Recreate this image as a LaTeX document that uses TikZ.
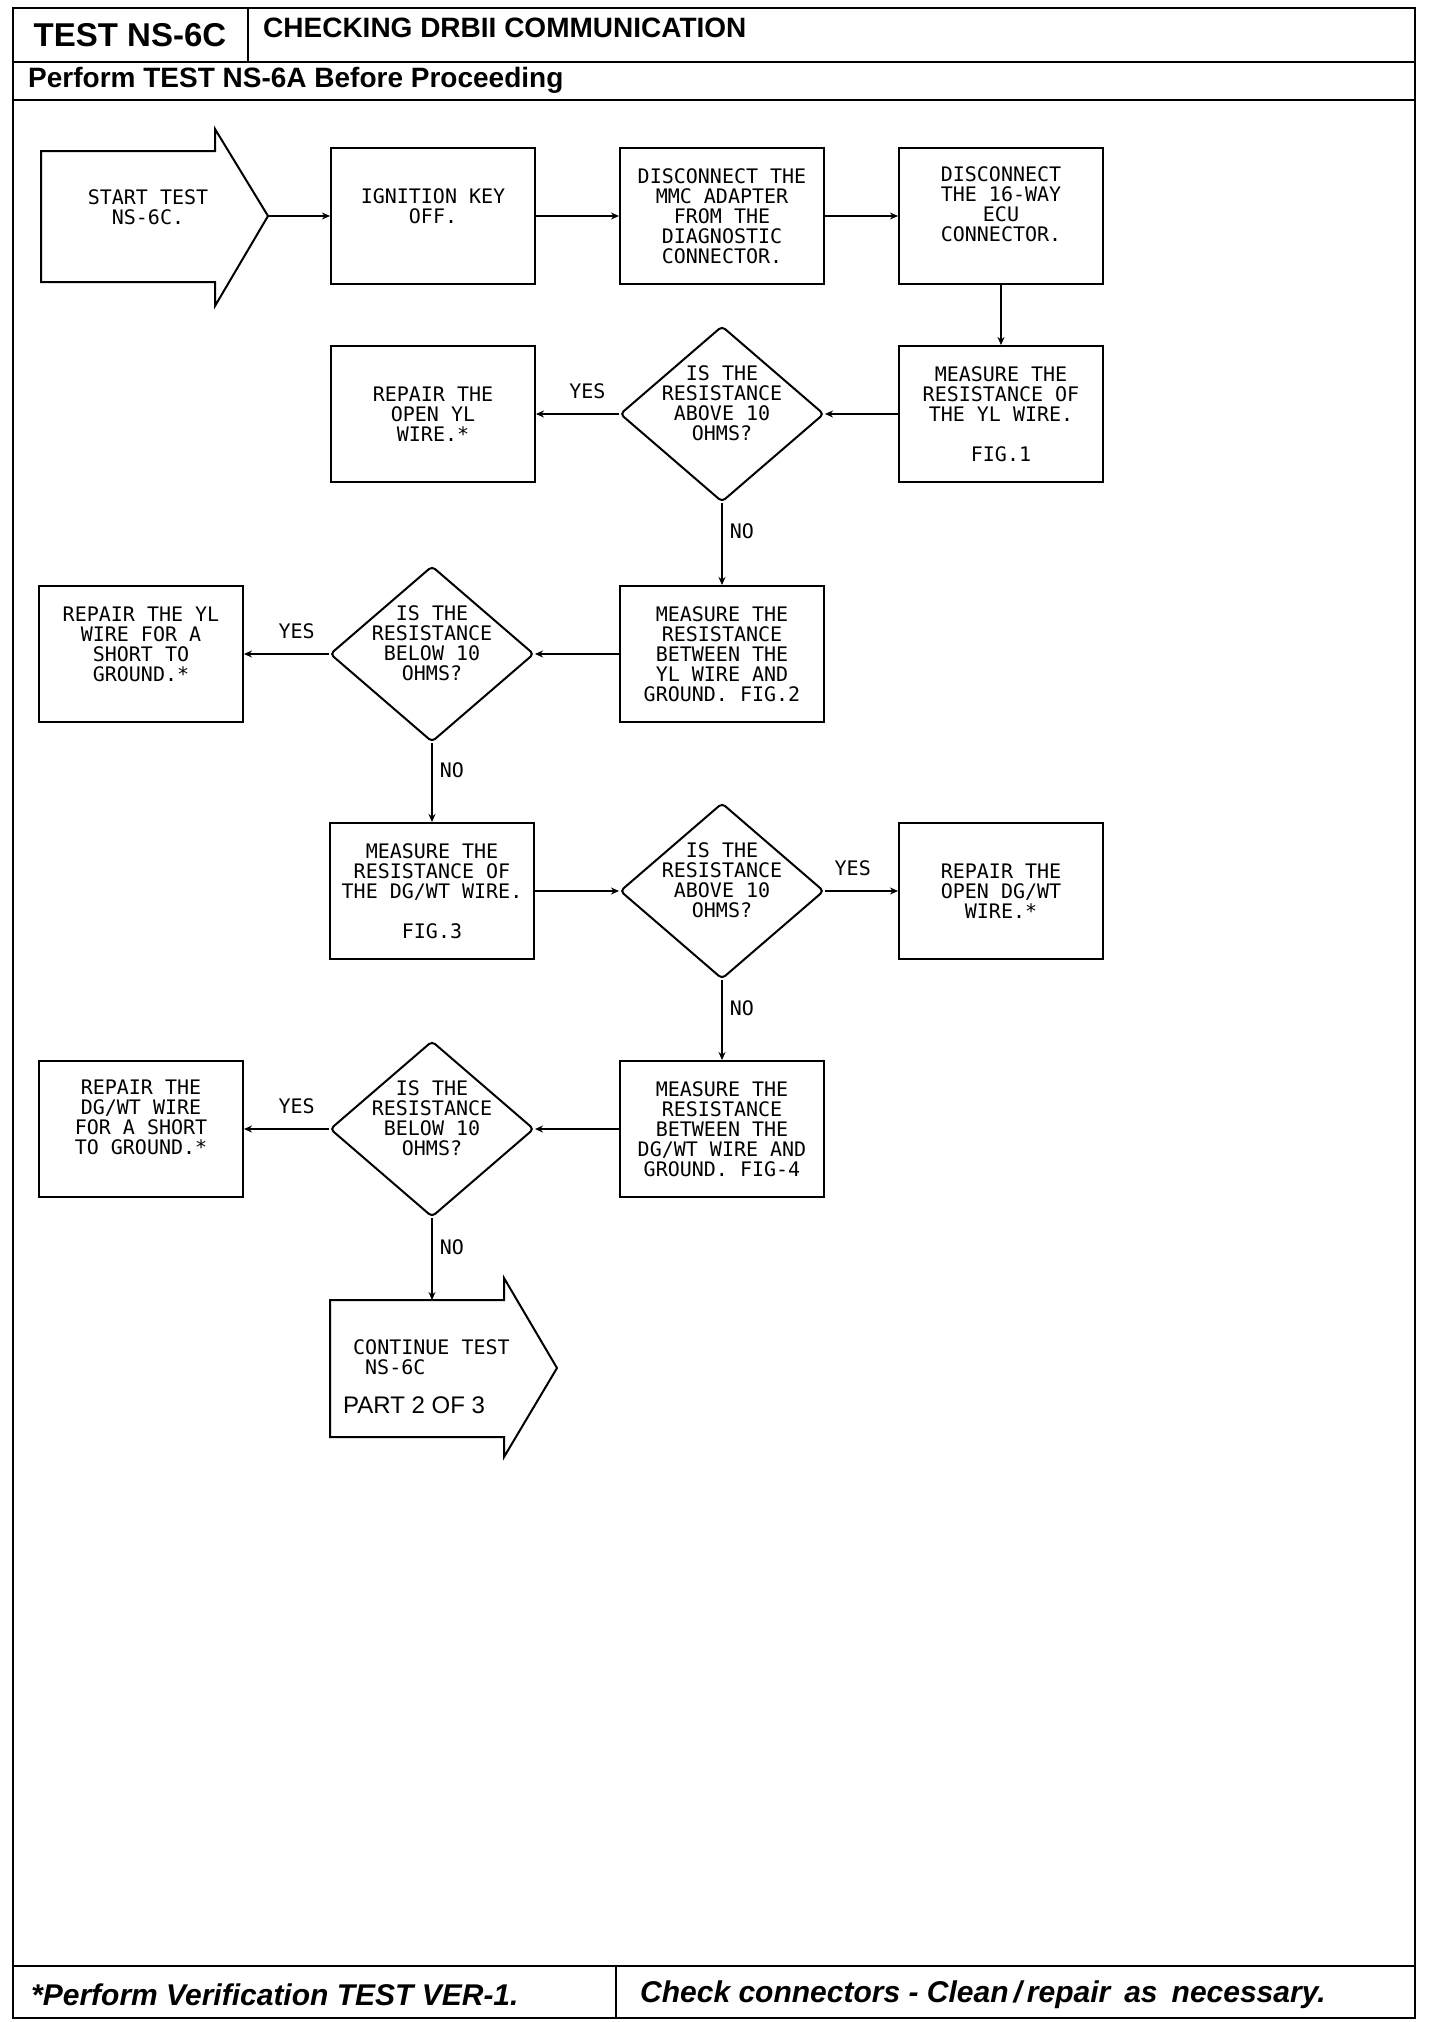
\documentclass[tikz,border=0pt]{standalone}
\usepackage{fontspec}
\setmainfont{Liberation Sans}
\newfontfamily\plotter{DejaVu Sans Mono}
\usetikzlibrary{arrows.meta,shapes.geometric}

\begin{document}
\begin{tikzpicture}[x=1pt,y=-1pt,>={Stealth[length=8pt,width=7pt]},
  plot/.style={font=\plotter\fontsize{20pt}{20pt}\selectfont,align=center,inner sep=0pt},
  stepbox/.style={plot,draw,line width=2pt,minimum width=204pt,minimum height=136pt},
  query/.style={draw,diamond,line width=2pt,minimum width=204pt,minimum height=176pt,inner sep=0pt,rounded corners=4pt},
  flow/.style={->,line width=1.8pt},
  head/.style={font=\bfseries\fontsize{#1}{#1}\selectfont,inner sep=0pt},
  foot/.style={font=\bfseries\itshape\fontsize{30pt}{30pt}\selectfont,inner sep=0pt,anchor=base west}]
  \useasboundingbox (0,0) rectangle (1440,2022);
  % frame, header and footer
  \draw[line width=2.6pt] (13,8) rectangle (1415,2018);
  \draw[line width=2.6pt] (13,62) -- (1415,62) (248,8) -- (248,62) (13,100) -- (1415,100)
    (13,1966) -- (1415,1966) (616,1966) -- (616,2018);
  \node[head=33pt,anchor=base] (title) at (130,46) {TEST NS-6C};
  \node[head=28pt,anchor=base west] (topic) at (263,37) {CHECKING DRBII COMMUNICATION};
  \node[head=28pt,anchor=base west] (first) at (28,87) {Perform TEST NS-6A Before Proceeding};
  \node[foot] (verify) at (31,2005) {*Perform Verification TEST VER-1.};
  \node[foot] (check) at (640,2002) {Check connectors - Clean\,/\,repair\hspace{14pt}as\hspace{14pt}necessary.};
  % start and continue arrows
  \draw[line width=2pt] (41,151) -- (215,151) -- (215,129) -- (268,216) -- (215,306) -- (215,282) -- (41,282) -- cycle;
  \coordinate (starttip) at (268,216);
  \node[plot] (start) at (148,207) {START TEST\\NS-6C.};
  \draw[line width=2pt] (330,1300) -- (504,1300) -- (504,1278) -- (557,1368) -- (504,1457) -- (504,1437) -- (330,1437) -- cycle;
  \coordinate (cont) at (432,1300);
  \node[plot,align=left,anchor=north west] (contname) at (353,1339) {CONTINUE TEST\\\hspace*{12pt}NS-6C};
  \node[inner sep=0pt,font=\fontsize{24pt}{24pt}\selectfont,anchor=base west] (part) at (343,1413) {PART 2 OF 3};
  % row 1
  \node[stepbox,label={[plot,yshift=10pt]center:IGNITION KEY\\OFF.}] (ign) at (433,216) {};
  \node[stepbox] (mmc) at (722,216) {DISCONNECT THE\\MMC ADAPTER\\FROM THE\\DIAGNOSTIC\\CONNECTOR.};
  \node[stepbox,label={[plot,yshift=12pt]center:DISCONNECT\\THE 16-WAY\\ECU\\CONNECTOR.}] (ecu) at (1001,216) {};
  % row 2
  \node[stepbox] (meas1) at (1001,414) {MEASURE THE\\RESISTANCE OF\\THE YL WIRE.\\[20pt]FIG.1};
  \node[query] (q1) at (722,414) {};
  \node[plot] at ([yshift=11pt]q1.center) {IS THE\\RESISTANCE\\ABOVE 10\\OHMS?};
  \node[stepbox] (rep1) at (433,414) {REPAIR THE\\OPEN YL\\WIRE.*};
  % row 3
  \node[stepbox] (meas2) at (722,654) {MEASURE THE\\RESISTANCE\\BETWEEN THE\\YL WIRE AND\\GROUND. FIG.2};
  \node[query] (q2) at (432,654) {};
  \node[plot] at ([yshift=11pt]q2.center) {IS THE\\RESISTANCE\\BELOW 10\\OHMS?};
  \node[stepbox,label={[plot,yshift=10pt]center:REPAIR THE YL\\WIRE FOR A\\SHORT TO\\GROUND.*}] (rep2) at (141,654) {};
  % row 4
  \node[stepbox] (meas3) at (432,891) {MEASURE THE\\RESISTANCE OF\\THE DG/WT WIRE.\\[20pt]FIG.3};
  \node[query] (q3) at (722,891) {};
  \node[plot] at ([yshift=11pt]q3.center) {IS THE\\RESISTANCE\\ABOVE 10\\OHMS?};
  \node[stepbox] (rep3) at (1001,891) {REPAIR THE\\OPEN DG/WT\\WIRE.*};
  % row 5
  \node[stepbox] (meas4) at (722,1129) {MEASURE THE\\RESISTANCE\\BETWEEN THE\\DG/WT WIRE AND\\GROUND. FIG-4};
  \node[query] (q4) at (432,1129) {};
  \node[plot] at ([yshift=11pt]q4.center) {IS THE\\RESISTANCE\\BELOW 10\\OHMS?};
  \node[stepbox,label={[plot,yshift=12pt]center:REPAIR THE\\DG/WT WIRE\\FOR A SHORT\\TO GROUND.*}] (rep4) at (141,1129) {};
  % connectors
  \draw[flow] (starttip) -- (ign);
  \foreach \a/\b in {ign/mmc,mmc/ecu,ecu/meas1,meas1/q1,meas2/q2,meas3/q3,meas4/q4}
    \draw[flow] (\a) -- (\b);
  \foreach \a/\b in {q1/rep1,q2/rep2,q3/rep3,q4/rep4}
    \draw[flow] (\a) -- node[plot,pos=0.38,above=14pt]{YES} (\b);
  \foreach \a/\b in {q1/meas2,q2/meas3,q3/meas4}
    \draw[flow] (\a) -- node[plot,pos=0.35,right=7pt]{NO} (\b);
  \draw[flow] (q4) -- node[plot,pos=0.35,right=7pt]{NO} (q4.south |- cont);
\end{tikzpicture}
\end{document}
